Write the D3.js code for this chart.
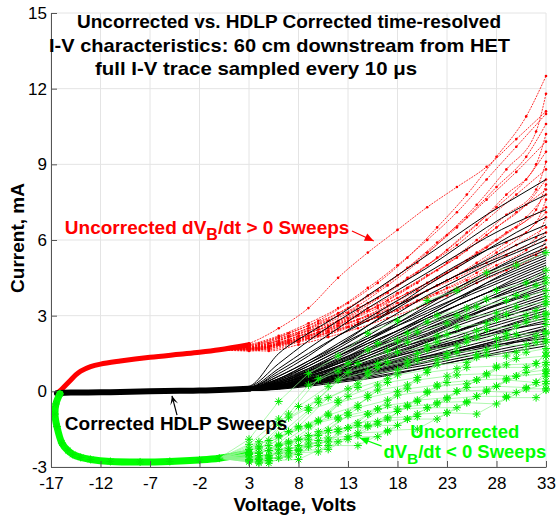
<!DOCTYPE html>
<html>
<head>
<meta charset="utf-8">
<script src="https://cdn.jsdelivr.net/npm/d3@7"></script>
<style>
body { margin: 0; background: #fff; }
text { font-family: "Liberation Sans", Arial, sans-serif; }
</style>
</head>
<body>
<div id="chart"></div>
<script>
var chartWidth = 558
var chartHeight = 518

var xTicks = [-17, -12, -7, -2, 3, 8, 13, 18, 23, 28, 33]
var yTicks = [-3, 0, 3, 6, 9, 12, 15]

var titleLines = [
    "Uncorrected vs. HDLP Corrected time-resolved",
    "I-V characteristics: 60 cm downstream from HET",
    "full I-V trace sampled every 10 \u03bcs"
]

// low voltage part: all sweeps of a group lie on top of each other here
var redBandV = [-16.3, -16, -15.5, -15, -14.5, -14, -13, -12, -10, -7, -4, -2, 0, 3]
var redBandI = [-0.05, 0.05, 0.25, 0.45, 0.65, 0.8, 0.98, 1.08, 1.2, 1.35, 1.47, 1.55, 1.65, 1.85]

var blackBandV = [-16.4, -15, -12, -9, -7, -4, -2, 0, 3]
var blackBandI = [-0.08, -0.05, -0.04, -0.02, 0.0, 0.02, 0.03, 0.05, 0.1]

var greenBandV = [-16.1, -16.5, -16.6, -16.4, -15.9, -15.3, -14.8, -14, -13, -11, -8, -5, -2, 0, 3]
var greenBandI = [-0.1, -0.5, -0.9, -1.4, -2.05, -2.35, -2.5, -2.62, -2.7, -2.78, -2.8, -2.78, -2.72, -2.65, -2.45]

// upper part of the sweeps; successive sweeps are sampled at shifted voltages
var sweepV = [3, 6, 9, 12, 15, 18, 21, 24, 27, 30, 33]
var sweepV2 = [4, 7, 10, 13, 16, 19, 22, 25, 28, 31, 33]
var sweepV3 = [5, 8, 11, 14, 17, 20, 23, 26, 29, 32, 33]
var sampleGrids = [sweepV, sweepV2, sweepV3]

var redSweeps = [
    [1.9, 2.5, 3.3, 4.5, 5.5, 6.4, 7.3, 8.1, 8.9, 10.0, 11.1],
    [1.9, 2.3, 2.8, 3.5, 4.3, 5.3, 6.5, 7.8, 9.3, 10.9, 12.5],
    [1.9, 2.3, 2.8, 3.4, 4.2, 5.1, 6.2, 7.4, 8.8, 10.3, 11.8],
    [1.85, 2.2, 2.7, 3.3, 4.1, 5.0, 6.0, 7.1, 8.4, 9.7, 11.0],
    [1.85, 2.2, 2.7, 3.3, 4.0, 4.9, 5.9, 6.9, 8.1, 9.3, 10.6],
    [1.8, 2.2, 2.6, 3.2, 3.9, 4.7, 5.6, 6.6, 7.8, 9.0, 10.2],
    [1.8, 2.15, 2.6, 3.1, 3.8, 4.6, 5.5, 6.5, 7.6, 8.7, 9.9],
    [1.8, 2.15, 2.55, 3.1, 3.7, 4.5, 5.3, 6.3, 7.3, 8.4, 9.5],
    [1.8, 2.1, 2.5, 3.0, 3.6, 4.3, 5.1, 6.0, 7.0, 8.0, 9.1],
    [1.75, 2.1, 2.5, 3.0, 3.5, 4.2, 5.0, 5.8, 6.8, 7.8, 8.8],
    [1.75, 2.05, 2.45, 2.9, 3.4, 4.1, 4.8, 5.6, 6.5, 7.4, 8.4],
    [1.75, 2.05, 2.4, 2.85, 3.4, 4.0, 4.7, 5.5, 6.3, 7.2, 8.2],
    [1.7, 2.0, 2.4, 2.8, 3.3, 3.9, 4.6, 5.3, 6.2, 7.1, 8.0],
    [1.7, 2.0, 2.35, 2.8, 3.3, 3.9, 4.5, 5.2, 6.0, 6.9, 7.8],
    [1.7, 2.0, 2.35, 2.75, 3.2, 3.8, 4.4, 5.1, 5.9, 6.7, 7.6],
    [1.7, 1.95, 2.3, 2.7, 3.2, 3.7, 4.3, 4.9, 5.7, 6.5, 7.3],
    [1.7, 1.95, 2.3, 2.7, 3.1, 3.6, 4.2, 4.8, 5.5, 6.3, 7.1],
    [1.65, 1.95, 2.25, 2.65, 3.1, 3.6, 4.1, 4.7, 5.4, 6.1, 6.9],
    [1.65, 1.9, 2.2, 2.6, 3.0, 3.5, 4.0, 4.5, 5.1, 5.8, 6.5],
    [1.65, 1.9, 2.2, 2.55, 2.95, 3.4, 3.9, 4.4, 5.0, 5.6, 6.3],
    [1.6, 1.85, 2.15, 2.5, 2.9, 3.3, 3.8, 4.3, 4.8, 5.4, 6.0],
    [1.6, 1.85, 2.1, 2.45, 2.8, 3.2, 3.7, 4.1, 4.6, 5.1, 5.7]
]

var blackSweeps = [
    [0.2, 1.5, 2.3, 3.0, 3.8, 4.6, 5.4, 6.2, 7.0, 7.7, 8.4],
    [0.18, 1.1, 2.0, 2.8, 3.5, 4.2, 4.9, 5.7, 6.5, 7.2, 7.8],
    [0.15, 0.9, 1.7, 2.5, 3.3, 4.0, 4.7, 5.4, 6.1, 6.7, 7.2],
    [0.15, 0.5, 1.1, 1.8, 2.6, 3.4, 4.2, 4.9, 5.6, 6.3, 6.9],
    [0.15, 0.7, 1.4, 2.2, 2.9, 3.6, 4.3, 5.0, 5.6, 6.1, 6.6],
    [0.15, 0.6, 1.2, 1.9, 2.6, 3.3, 4.0, 4.6, 5.2, 5.8, 6.3],
    [0.12, 0.8, 1.5, 2.2, 2.8, 3.4, 4.0, 4.6, 5.1, 5.6, 6.15],
    [0.12, 0.5, 1.1, 1.7, 2.4, 3.1, 3.8, 4.4, 5.0, 5.5, 6.0],
    [0.12, 0.35, 0.8, 1.4, 2.0, 2.7, 3.4, 4.1, 4.7, 5.3, 5.85],
    [0.12, 0.45, 1.0, 1.6, 2.2, 2.9, 3.5, 4.1, 4.7, 5.2, 5.7],
    [0.1, 0.6, 1.2, 1.8, 2.4, 2.9, 3.5, 4.0, 4.6, 5.1, 5.6],
    [0.12, 0.4, 0.9, 1.5, 2.1, 2.7, 3.3, 3.9, 4.5, 5.0, 5.5],
    [0.1, 0.3, 0.7, 1.2, 1.8, 2.4, 3.0, 3.6, 4.3, 4.9, 5.4],
    [0.1, 0.4, 0.85, 1.4, 2.0, 2.6, 3.2, 3.7, 4.3, 4.8, 5.3],
    [0.1, 0.5, 1.0, 1.6, 2.1, 2.6, 3.1, 3.7, 4.2, 4.7, 5.2],
    [0.1, 0.35, 0.8, 1.3, 1.9, 2.4, 3.0, 3.6, 4.1, 4.6, 5.1],
    [0.1, 0.3, 0.65, 1.1, 1.6, 2.2, 2.8, 3.4, 3.9, 4.5, 5.0],
    [0.1, 0.35, 0.75, 1.2, 1.7, 2.3, 2.9, 3.4, 3.9, 4.4, 4.9],
    [0.1, 0.45, 0.9, 1.4, 1.9, 2.4, 2.9, 3.4, 3.9, 4.3, 4.8],
    [0.1, 0.3, 0.7, 1.15, 1.65, 2.2, 2.7, 3.2, 3.7, 4.2, 4.7],
    [0.08, 0.25, 0.55, 0.95, 1.4, 1.9, 2.5, 3.0, 3.6, 4.1, 4.6],
    [0.1, 0.3, 0.65, 1.1, 1.6, 2.1, 2.6, 3.1, 3.6, 4.1, 4.5],
    [0.08, 0.4, 0.8, 1.25, 1.7, 2.2, 2.7, 3.1, 3.6, 4.0, 4.4],
    [0.1, 0.3, 0.6, 1.0, 1.5, 2.0, 2.5, 2.9, 3.4, 3.9, 4.3],
    [0.08, 0.22, 0.5, 0.85, 1.3, 1.75, 2.25, 2.75, 3.25, 3.75, 4.2],
    [0.1, 0.25, 0.6, 1.0, 1.4, 1.9, 2.3, 2.8, 3.3, 3.7, 4.1],
    [0.08, 0.35, 0.7, 1.1, 1.5, 1.95, 2.4, 2.85, 3.25, 3.65, 4.0],
    [0.1, 0.25, 0.55, 0.9, 1.3, 1.8, 2.2, 2.7, 3.1, 3.5, 3.9],
    [0.08, 0.25, 0.5, 0.85, 1.3, 1.7, 2.1, 2.6, 3.0, 3.4, 3.8],
    [0.06, 0.2, 0.45, 0.75, 1.1, 1.5, 1.95, 2.4, 2.85, 3.3, 3.7],
    [0.08, 0.2, 0.5, 0.8, 1.2, 1.6, 2.0, 2.4, 2.8, 3.2, 3.6],
    [0.08, 0.2, 0.45, 0.8, 1.15, 1.55, 1.95, 2.35, 2.75, 3.1, 3.5],
    [0.06, 0.3, 0.6, 0.95, 1.3, 1.7, 2.05, 2.4, 2.75, 3.1, 3.4],
    [0.08, 0.2, 0.45, 0.75, 1.1, 1.45, 1.85, 2.2, 2.6, 2.95, 3.3],
    [0.08, 0.2, 0.4, 0.7, 1.05, 1.4, 1.75, 2.1, 2.5, 2.85, 3.2],
    [0.05, 0.15, 0.35, 0.6, 0.9, 1.25, 1.6, 1.95, 2.35, 2.75, 3.1],
    [0.05, 0.18, 0.4, 0.65, 1.0, 1.3, 1.65, 2.0, 2.35, 2.7, 3.0],
    [0.05, 0.18, 0.38, 0.65, 0.95, 1.25, 1.6, 1.9, 2.25, 2.6, 2.9],
    [0.05, 0.15, 0.35, 0.6, 0.9, 1.2, 1.5, 1.85, 2.15, 2.5, 2.8],
    [0.05, 0.25, 0.5, 0.8, 1.1, 1.4, 1.7, 2.0, 2.25, 2.5, 2.7],
    [0.05, 0.15, 0.35, 0.55, 0.85, 1.1, 1.4, 1.7, 2.0, 2.3, 2.6],
    [0.05, 0.15, 0.3, 0.55, 0.8, 1.05, 1.35, 1.6, 1.9, 2.2, 2.5],
    [0.04, 0.12, 0.28, 0.5, 0.75, 1.0, 1.3, 1.6, 1.9, 2.2, 2.45],
    [0.05, 0.12, 0.3, 0.5, 0.75, 1.0, 1.3, 1.55, 1.85, 2.1, 2.4],
    [0.05, 0.12, 0.3, 0.5, 0.7, 0.95, 1.2, 1.5, 1.75, 2.0, 2.3],
    [0.05, 0.12, 0.28, 0.45, 0.65, 0.9, 1.15, 1.4, 1.65, 1.95, 2.2],
    [0.04, 0.2, 0.4, 0.65, 0.9, 1.15, 1.4, 1.6, 1.8, 1.95, 2.1],
    [0.03, 0.1, 0.25, 0.42, 0.6, 0.85, 1.05, 1.3, 1.55, 1.8, 2.0],
    [0.03, 0.08, 0.2, 0.35, 0.5, 0.7, 0.95, 1.2, 1.45, 1.7, 1.9],
    [0.03, 0.1, 0.25, 0.4, 0.55, 0.75, 0.95, 1.2, 1.4, 1.6, 1.8]
]

// noisy samples, read point by point
var greenSweeps = [
    [-1.9, -0.4, 0.7, 1.4, 2.3, 2.8, 3.6, 4.0, 4.7, 5.0, 5.5],
    [-2.0, -0.9, 0.5, 1.1, 1.9, 2.3, 3.0, 3.3, 4.0, 4.3, 4.8],
    [-1.95, -0.6, 0.2, 1.1, 1.6, 2.35, 2.7, 3.35, 3.6, 4.2, 4.5],
    [-2.1, -1.1, 0.25, 0.8, 1.65, 2.0, 2.75, 3.0, 3.65, 3.8, 4.3],
    [-2.2, -1.05, -0.3, 0.75, 1.1, 1.95, 2.2, 2.95, 3.1, 3.75, 4.0],
    [-2.15, -1.4, -0.25, 0.3, 1.15, 1.5, 2.25, 2.4, 3.05, 3.2, 3.75],
    [-2.3, -1.3, -0.65, 0.45, 0.8, 1.55, 1.8, 2.55, 2.7, 3.35, 3.55],
    [-2.25, -1.6, -0.45, 0.1, 0.95, 1.2, 1.95, 2.15, 2.85, 3.0, 3.45],
    [-2.35, -1.45, -0.9, 0.15, 0.5, 1.25, 1.5, 2.15, 2.3, 2.95, 3.1],
    [-2.3, -1.75, -0.75, -0.35, 0.65, 0.85, 1.65, 1.8, 2.45, 2.6, 3.05],
    [-2.45, -1.6, -1.15, -0.2, 0.25, 1.05, 1.25, 1.95, 2.1, 2.75, 2.85],
    [-2.35, -1.9, -0.95, -0.55, 0.35, 0.55, 1.35, 1.45, 2.15, 2.2, 2.65],
    [-2.5, -1.8, -1.4, -0.45, -0.15, 0.65, 0.85, 1.55, 1.65, 2.25, 2.35],
    [-2.45, -2.05, -1.2, -0.85, 0.05, 0.25, 1.05, 1.15, 1.8, 1.85, 2.3],
    [-2.6, -1.9, -1.55, -0.65, -0.35, 0.45, 0.6, 1.35, 1.4, 1.95, 2.05],
    [-2.45, -2.15, -1.35, -1.05, -0.25, 0.0, 0.75, 0.9, 1.45, 1.55, 1.95],
    [-2.65, -2.0, -1.75, -0.95, -0.7, 0.1, 0.25, 0.95, 1.0, 1.55, 1.7],
    [-2.55, -2.3, -1.55, -1.35, -0.55, -0.4, 0.35, 0.45, 1.05, 1.1, 1.55],
    [-2.7, -2.1, -1.9, -1.1, -0.9, -0.15, 0.0, 0.65, 0.7, 1.3, 1.4],
    [-2.55, -2.35, -1.6, -1.45, -0.7, -0.55, 0.2, 0.3, 0.95, 0.95, 1.4],
    [-2.75, -2.15, -2.0, -1.25, -1.1, -0.35, -0.25, 0.45, 0.5, 1.1, 1.15],
    [-2.6, -2.45, -1.75, -1.6, -0.9, -0.8, -0.05, 0.0, 0.65, 0.6, 1.05],
    [-2.8, -2.25, -2.15, -1.45, -1.3, -0.6, -0.5, 0.15, 0.2, 0.75, 0.85],
    [-2.65, -2.5, -1.85, -1.75, -1.05, -1.0, -0.3, -0.2, 0.45, 0.35, 0.8],
    [-2.8, -2.3, -2.2, -1.5, -1.4, -0.7, -0.65, 0.0, 0.05, 0.6, 0.7],
    [-2.7, -2.6, -1.95, -1.9, -1.2, -1.1, -0.45, -0.4, 0.2, 0.15, 0.6],
    [-2.85, -2.35, -2.3, -1.65, -1.6, -0.9, -0.85, -0.2, -0.2, 0.35, 0.4],
    [-2.75, -2.65, -2.05, -2.0, -1.35, -1.35, -0.65, -0.65, 0.0, -0.05, 0.3],
    [-2.85, -2.45, -2.4, -1.8, -1.8, -1.1, -1.1, -0.45, -0.5, 0.1, 0.1],
    [-2.75, -2.7, -2.15, -2.15, -1.55, -1.5, -0.85, -0.9, -0.25, -0.25, 0.05]
]

var svg = d3.select("#chart")
    .append("svg")
        .attr("width", chartWidth)
        .attr("height", chartHeight)

var x = d3.scaleLinear().domain([-17, 33]).range([51, 546])
var y = d3.scaleLinear().domain([-3, 15]).range([467, 13])

// grid
svg.append("g").selectAll("line")
    .data(xTicks)
    .enter().append("line")
        .attr("x1", d => x(d)).attr("x2", d => x(d))
        .attr("y1", y(-3)).attr("y2", y(15))
        .attr("stroke", "#e4e4e4")
svg.append("g").selectAll("line")
    .data(yTicks)
    .enter().append("line")
        .attr("x1", x(-17)).attr("x2", x(33))
        .attr("y1", d => y(d)).attr("y2", d => y(d))
        .attr("stroke", "#e4e4e4")

var line = d3.line()
    .x(d => x(d[0]))
    .y(d => y(d[1]))
    .curve(d3.curveMonotoneX)
var straightLine = d3.line()
    .x(d => x(d[0]))
    .y(d => y(d[1]))
var bandLine = d3.line()
    .x(d => x(d[0]))
    .y(d => y(d[1]))
    .curve(d3.curveCatmullRom)

function sweepPoints(s, i){
    return d3.zip(sampleGrids[i % 3], s)
}

function starPath(r){
    var d = r * 0.7
    return "M" + (-r) + ",0H" + r + "M0," + (-r) + "V" + r +
        "M" + (-d) + "," + (-d) + "L" + d + "," + d +
        "M" + (-d) + "," + d + "L" + d + "," + (-d)
}

// red: uncorrected dVB/dt > 0
var redG = svg.append("g")
redG.append("path")
    .attr("d", bandLine(d3.zip(redBandV, redBandI)))
    .attr("fill", "none")
    .attr("stroke", "#ff0000")
    .attr("stroke-width", 5)
    .attr("stroke-linecap", "round")
redG.selectAll(".sweep")
    .data(redSweeps)
    .enter().append("path")
        .attr("class", "sweep")
        .attr("d", (d, i) => line([[redBandV[redBandV.length - 2], redBandI[redBandI.length - 2]]].concat(sweepPoints(d, i))))
        .attr("fill", "none")
        .attr("stroke", "#ff0000")
        .attr("stroke-width", 0.8)
        .attr("stroke-dasharray", "2,1")
redG.selectAll(".dots")
    .data(redSweeps)
    .enter().append("g")
    .selectAll("circle")
    .data((d, i) => sweepPoints(d, i))
    .enter().append("circle")
        .attr("cx", d => x(d[0]))
        .attr("cy", d => y(d[1]))
        .attr("r", 1.3)
        .attr("fill", "#ff0000")

// black: corrected HDLP sweeps
var blackG = svg.append("g")
blackG.append("path")
    .attr("d", bandLine(d3.zip(blackBandV, blackBandI)))
    .attr("fill", "none")
    .attr("stroke", "#000")
    .attr("stroke-width", 6)
    .attr("stroke-linecap", "round")
blackG.selectAll(".sweep")
    .data(blackSweeps)
    .enter().append("path")
        .attr("d", d => line([[blackBandV[blackBandV.length - 2], blackBandI[blackBandI.length - 2]]].concat(d3.zip(sweepV, d))))
        .attr("fill", "none")
        .attr("stroke", "#000")
        .attr("stroke-width", 1)

// green: uncorrected dVB/dt < 0
var greenG = svg.append("g")
greenG.append("path")
    .attr("d", bandLine(d3.zip(greenBandV, greenBandI)))
    .attr("fill", "none")
    .attr("stroke", "#00ff00")
    .attr("stroke-width", 7)
    .attr("stroke-linecap", "round")
greenG.selectAll(".sweep")
    .data(greenSweeps)
    .enter().append("path")
        .attr("d", (d, i) => straightLine([[greenBandV[greenBandV.length - 2], greenBandI[greenBandI.length - 2]]].concat(sweepPoints(d, i))))
        .attr("fill", "none")
        .attr("stroke", "#8cf58c")
        .attr("stroke-width", 0.7)
var greenPts = d3.zip(greenBandV, greenBandI)
greenSweeps.forEach(function(s, i){ greenPts = greenPts.concat(sweepPoints(s, i)) })
greenG.selectAll(".star")
    .data(greenPts)
    .enter().append("path")
        .attr("class", "star")
        .attr("transform", d => "translate(" + x(d[0]) + "," + y(d[1]) + ")")
        .attr("d", starPath(4))
        .attr("fill", "none")
        .attr("stroke", "#00ee00")
        .attr("stroke-width", 1)

// axes
svg.append("g")
    .attr("transform", "translate(0," + y(-3) + ")")
    .call(d3.axisBottom(x).tickValues(xTicks).tickSize(-6).tickSizeOuter(0).tickPadding(10))
svg.append("g")
    .attr("transform", "translate(" + x(-17) + ",0)")
    .call(d3.axisLeft(y).tickValues(yTicks).tickSize(-6).tickSizeOuter(0).tickPadding(4))
svg.selectAll(".domain, .tick line").attr("stroke", "#555")
svg.selectAll(".tick text")
    .attr("font-family", "Liberation Sans, Arial, sans-serif")
    .attr("font-size", 17)
    .attr("fill", "#000")
    .text(d => d < 0 ? "-" + Math.abs(d) : d)

svg.append("text")
    .attr("x", 295).attr("y", 511)
    .attr("text-anchor", "middle")
    .attr("font-weight", "bold").attr("font-size", 19)
    .text("Voltage, Volts")
svg.append("text")
    .attr("transform", "translate(24,238) rotate(-90)")
    .attr("text-anchor", "middle")
    .attr("font-weight", "bold").attr("font-size", 19)
    .text("Current, mA")

// title
var titleX = [77, 49, 95]
var titleY = [28, 52, 75]
var titleW = [424, 461, 322]
svg.selectAll(".title")
    .data(titleLines)
    .enter().append("text")
        .attr("x", (d, i) => titleX[i])
        .attr("y", (d, i) => titleY[i])
        .attr("textLength", (d, i) => titleW[i])
        .attr("lengthAdjust", "spacingAndGlyphs")
        .attr("font-weight", "bold").attr("font-size", 19)
        .text(d => d)

// annotations
function arrow(g, x0, y0, x1, y1, color, open){
    var a = Math.atan2(y1 - y0, x1 - x0)
    var len = 9, w = 4
    var bx = x1 - len * Math.cos(a), by = y1 - len * Math.sin(a)
    var p1 = [bx + w * Math.sin(a), by - w * Math.cos(a)]
    var p2 = [bx - w * Math.sin(a), by + w * Math.cos(a)]
    g.append("line").attr("x1", x0).attr("y1", y0).attr("x2", x1).attr("y2", y1)
        .attr("stroke", color).attr("stroke-width", 1.2)
    g.append("path")
        .attr("d", "M" + p1 + "L" + x1 + "," + y1 + "L" + p2 + (open ? "L" + (x1 - 0.5 * len * Math.cos(a)) + "," + (y1 - 0.5 * len * Math.sin(a)) + "Z" : "Z"))
        .attr("fill", color)
}

var ann = svg.append("g").attr("font-weight", "bold").attr("font-size", 19)

var redText = ann.append("text").attr("x", x(-15.6)).attr("y", y(6.24)).attr("fill", "#ff0000")
redText.append("tspan").text("Uncorrected dV")
redText.append("tspan").attr("dy", 6).attr("font-size", 16).text("B")
redText.append("tspan").attr("dy", -6).text("/dt > 0 Sweeps")
arrow(ann, x(13.4), y(6.36), x(15.6), y(5.96), "#ff0000", false)

ann.append("text").attr("x", x(-15.6)).attr("y", y(-1.53)).attr("fill", "#000")
    .text("Corrected HDLP Sweeps")
arrow(ann, x(-4.27), y(-0.94), x(-4.78), y(-0.18), "#000", true)

ann.append("text").attr("x", x(24.8)).attr("y", y(-1.85)).attr("fill", "#00ff00")
    .attr("text-anchor", "middle").attr("font-size", 18.5)
    .text("Uncorrected")
var greenText = ann.append("text").attr("x", x(24.8)).attr("y", y(-2.64)).attr("fill", "#00ff00")
    .attr("text-anchor", "middle").attr("font-size", 18.5)
greenText.append("tspan").text("dV")
greenText.append("tspan").attr("dy", 6).attr("font-size", 15.5).text("B")
greenText.append("tspan").attr("dy", -6).text("/dt < 0 Sweeps")
arrow(ann, x(16.4), y(-2.17), x(14.2), y(-1.85), "#00ff00", false)
</script>
</body>
</html>
